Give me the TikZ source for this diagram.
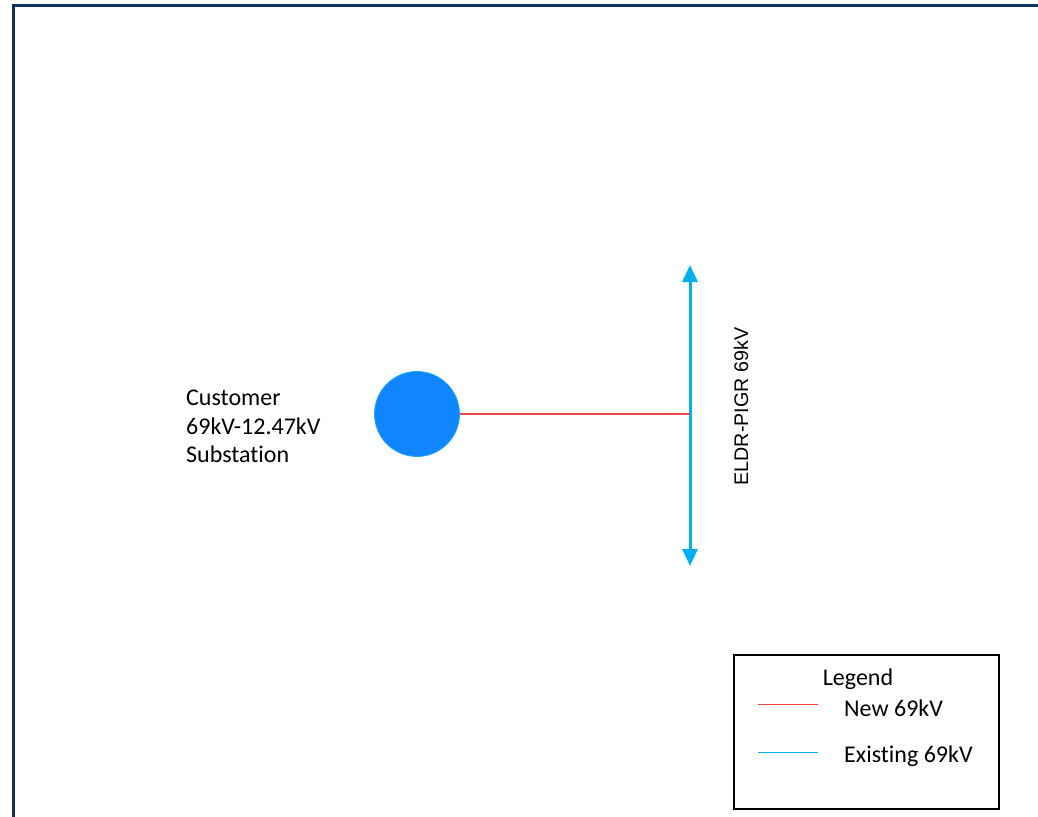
\documentclass[tikz,border=0pt]{standalone}
\usepackage{fontspec}
\setmainfont{Carlito}[Ligatures=CommonOff]
\newfontfamily\arialfont{Liberation Sans}
\usetikzlibrary{arrows.meta}
\definecolor{frame}{HTML}{11305A}
\definecolor{subfill}{HTML}{0F86FF}
\definecolor{subedge}{HTML}{1FA8F0}
\definecolor{newline}{HTML}{F04848}
\definecolor{exline}{HTML}{00B0F0}
\tikzset{
  lbl/.style={font=\fontsize{24}{28.5}\selectfont, inner sep=0pt},
  newl/.style={draw=newline, line width=1.5pt},
  exl/.style={draw=exline, line width=1.5pt},
}
\begin{document}
\begin{tikzpicture}[x=1pt,y=-1pt]
\useasboundingbox (0,0) rectangle (1038,816);
% frame
\draw[frame, line width=3pt] (13.5,830) -- (13.5,5.5) -- (1050,5.5);
% substation
\node[circle, fill=subfill, draw=subedge, line width=0.8pt, minimum size=85pt, inner sep=0pt] (sub) at (417,414) {};
\node[lbl, anchor=north west, align=left] (sublbl) at (186,390) {Customer\\69kV-12.47kV\\Substation};
% existing line
\coordinate (top) at (690,265);
\coordinate (bot) at (690,566);
\coordinate (tap) at (690,414);
\draw[exline, line width=3pt, -{Triangle[length=17pt,width=15pt]}] (tap) -- (top);
\draw[exline, line width=3pt, -{Triangle[length=17pt,width=15pt]}] (tap) -- (bot);
\node[inner sep=0pt, font=\arialfont\fontsize{19.7}{24}\selectfont, rotate=90] (exlbl) at (741,406.5) {ELDR-PIGR 69kV};
% new line
\draw[newl] (sub.east) -- (tap);
% legend
\node[draw=black, line width=2pt, minimum width=265pt, minimum height=154pt, anchor=north west, inner sep=0pt] (leg) at (733,654) {};
\node[lbl, anchor=base] (legt) at (858,685) {Legend};
\coordinate (r1) at (758,704);
\coordinate (r2) at (818,704);
\coordinate (b1) at (758,752);
\coordinate (b2) at (818,752);
\draw[newl, line width=1pt] (r1) -- (r2);
\draw[exl, line width=1pt] (b1) -- (b2);
\node[lbl, anchor=base west] (legnew) at (844,716) {New 69kV};
\node[lbl, anchor=base west] (legex) at (844,762) {Existing 69kV};
\end{tikzpicture}
\end{document}
